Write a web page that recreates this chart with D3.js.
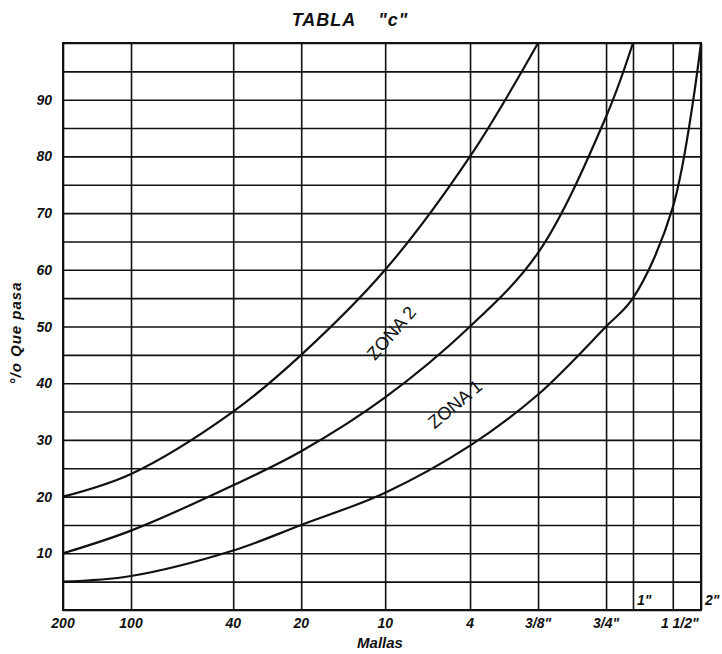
<!DOCTYPE html>
<html>
<head>
<meta charset="utf-8">
<script src="https://cdn.jsdelivr.net/npm/d3@7/dist/d3.min.js"></script>
<style>
  body { margin: 0; background: #fff; }
  text { font-family: "Liberation Sans", Arial, sans-serif; fill: #111; }
</style>
</head>
<body>
<svg id="chart"></svg>
<script>
// sieve openings (mm) and their labels
var sieveMM     = [0.075, 0.15, 0.425, 0.85, 2.0, 4.75, 9.5, 19.0, 25.0, 37.5, 50.0];
var sieveLabels = ["200", "100", "40", "20", "10", "4", "3/8\"", "3/4\"", "1\"", "1 1/2\"", "2\""];

// % que pasa for each limit curve (read at each sieve, left to right)
var curveTop    = [20, 24, 35, 45, 60, 80, 100];
var curveMid    = [10, 14, 22, 28, 37.5, 50, 63, 87, 100];
var curveBottom = [5, 6, 10.5, 15, 20.7, 29, 38, 50, 55, 71, 100];

var yTicks = [10, 20, 30, 40, 50, 60, 70, 80, 90];
var yGrid  = d3.range(0, 101, 5);

var margin = {top: 43, right: 21, bottom: 44, left: 63},
    width = 722 - margin.left - margin.right,
    height = 654 - margin.top - margin.bottom;

var svg = d3.select("#chart")
    .attr("width", 722)
    .attr("height", 654)
  .append("g")
    .attr("transform", "translate(" + margin.left + "," + margin.top + ")");

var x = d3.scaleLog()
    .domain([sieveMM[0], sieveMM[sieveMM.length - 1]])
    .range([0, width]);

var y = d3.scaleLinear()
    .domain([0, 100])
    .range([height, 0]);

// horizontal grid every 5%
svg.append("g")
    .attr("class", "hgrid")
    .call(d3.axisLeft(y).tickValues(yGrid).tickSize(-width).tickFormat(""))
    .call(function(g) { g.select(".domain").remove(); })
    .selectAll("line")
    .attr("stroke", "#111")
    .attr("stroke-width", 1.6);

// vertical grid at each sieve
svg.append("g")
    .attr("class", "vgrid")
    .attr("transform", "translate(0," + height + ")")
    .call(d3.axisBottom(x).tickValues(sieveMM).tickSize(-height).tickFormat(""))
    .call(function(g) { g.select(".domain").remove(); })
    .selectAll("line")
    .attr("stroke", "#111")
    .attr("stroke-width", 1.6);

// frame
svg.append("rect")
    .attr("width", width)
    .attr("height", height)
    .attr("fill", "none")
    .attr("stroke", "#111")
    .attr("stroke-width", 2);

// y tick labels
svg.append("g")
    .selectAll("text")
    .data(yTicks)
  .enter()
  .append("text")
    .attr("x", -11)
    .attr("y", function(d) { return y(d); })
    .attr("dy", "0.36em")
    .style("text-anchor", "end")
    .style("font-size", "14px")
    .style("font-style", "italic")
    .style("font-weight", "bold")
    .text(function(d) { return d; });

// x tick labels (1" and 2" are lifted above the axis, as on the sheet)
var raised = {"1\"": true, "2\"": true};
svg.append("g")
    .selectAll("text")
    .data(sieveLabels)
  .enter()
  .append("text")
    .attr("x", function(d, i) {
      if (raised[d]) return x(sieveMM[i]) + 4;
      if (d === "1 1/2\"") return x(sieveMM[i]) + 7;
      return x(sieveMM[i]);
    })
    .attr("y", function(d) { return raised[d] ? height - 5 : height + 18; })
    .style("text-anchor", function(d) { return raised[d] ? "start" : "middle"; })
    .style("font-size", "14px")
    .style("font-style", "italic")
    .style("font-weight", "bold")
    .text(function(d) { return d; });

// curves
var line = d3.line()
    .x(function(d) { return x(d[0]); })
    .y(function(d) { return y(d[1]); })
    .curve(d3.curveCatmullRom.alpha(0.5));

[curveTop, curveMid, curveBottom].forEach(function(vals) {
  var pts = vals.map(function(v, i) { return [sieveMM[i], v]; });
  svg.append("path")
      .datum(pts)
      .attr("d", line)
      .attr("fill", "none")
      .attr("stroke", "#111")
      .attr("stroke-width", 2.2);
});

// zone labels
svg.append("text")
    .attr("transform", "translate(" + (396 - margin.left) + "," + (337 - margin.top) + ") rotate(-49)")
    .style("text-anchor", "middle")
    .style("font-size", "18px")
    .text("ZONA 2");

svg.append("text")
    .attr("transform", "translate(" + (459 - margin.left) + "," + (409 - margin.top) + ") rotate(-40)")
    .style("text-anchor", "middle")
    .style("font-size", "18px")
    .text("ZONA 1");

// title
svg.append("text")
    .attr("x", 350 - margin.left)
    .attr("y", 26 - margin.top)
    .style("text-anchor", "middle")
    .style("font-size", "18px")
    .style("font-style", "italic")
    .style("font-weight", "bold")
    .style("letter-spacing", "1px")
    .text("TABLA")
  .append("tspan")
    .attr("dx", 22)
    .text("\"c\"");

// axis titles
svg.append("text")
    .attr("x", 380 - margin.left)
    .attr("y", 648 - margin.top)
    .style("text-anchor", "middle")
    .style("font-size", "15px")
    .style("font-style", "italic")
    .style("font-weight", "bold")
    .text("Mallas");

svg.append("text")
    .attr("transform", "translate(" + (21 - margin.left) + "," + (333 - margin.top) + ") rotate(-90)")
    .style("text-anchor", "middle")
    .style("font-size", "15px")
    .style("font-style", "italic")
    .style("font-weight", "bold")
    .style("letter-spacing", "1px")
    .text("°/o  Que pasa");
</script>
</body>
</html>
